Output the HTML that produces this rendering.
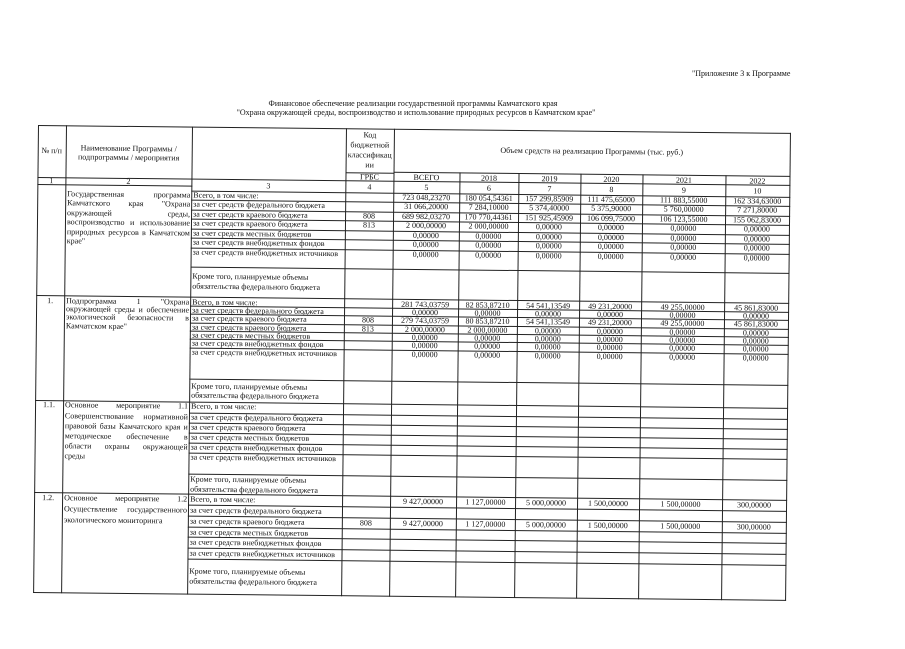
<!DOCTYPE html>
<html><head><meta charset="utf-8">
<style>
html,body{margin:0;padding:0;background:#fff}
body{width:905px;height:640px;overflow:hidden;position:relative;font-family:"Liberation Serif","DejaVu Serif",serif;color:#111}
#r{position:absolute;left:0;top:0;width:905px;height:640px;transform-origin:38px 125px;transform:rotate(0.6deg)}
.h{position:absolute;height:1px;background:#222}
.v{position:absolute;width:1px;background:#222}
.t{position:absolute;font-size:8px;line-height:8px;white-space:nowrap}
.c{text-align:center}
.j{text-align:justify;text-align-last:justify;white-space:normal}
.a{left:68px;width:123px}
.b{left:194px}
.v5{left:394px;width:66px}.v6{left:460px;width:59px}.v7{left:519px;width:62px}.v8{left:581px;width:62px}.v9{left:643px;width:83px}.v10{left:726px;width:64px}
.k{left:346px;width:48px}
</style></head><body>

<div class="t" style="left:692px;top:70px;font-size:8px">"Приложение 3 к Программе</div>
<div class="t c" style="left:213px;width:400px;top:100px;font-size:8px">Финансовое обеспечение реализации государственной программы Камчатского края</div>
<div class="t c" style="left:216px;width:400px;top:109px;font-size:8px">"Охрана окружающей среды, воспроизводство и использование природных ресурсов в Камчатском крае"</div>

<div id="r">
<!-- horizontal lines -->
<div class="h" style="left:38px;top:125px;width:753px"></div>
<div class="h" style="left:394px;top:168px;width:397px"></div>
<div class="h" style="left:346px;top:169px;width:49px"></div>
<div class="h" style="left:38px;top:177px;width:753px"></div>
<div class="h" style="left:38px;top:184px;width:155px"></div>
<div class="h" style="left:192px;top:189px;width:599px"></div>
<div class="h" style="left:192px;top:198px;width:599px"></div>
<div class="h" style="left:192px;top:208px;width:599px"></div>
<div class="h" style="left:192px;top:217px;width:599px"></div>
<div class="h" style="left:192px;top:227px;width:599px"></div>
<div class="h" style="left:192px;top:236px;width:599px"></div>
<div class="h" style="left:192px;top:246px;width:599px"></div>
<div class="h" style="left:192px;top:265px;width:599px"></div>
<div class="h" style="left:38px;top:295px;width:753px"></div>
<div class="h" style="left:192px;top:304px;width:599px"></div>
<div class="h" style="left:192px;top:312px;width:599px"></div>
<div class="h" style="left:192px;top:321px;width:599px"></div>
<div class="h" style="left:192px;top:329px;width:599px"></div>
<div class="h" style="left:192px;top:337px;width:599px"></div>
<div class="h" style="left:192px;top:346px;width:599px"></div>
<div class="h" style="left:192px;top:377px;width:599px"></div>
<div class="h" style="left:38px;top:400px;width:753px"></div>
<div class="h" style="left:192px;top:411px;width:599px"></div>
<div class="h" style="left:192px;top:421px;width:599px"></div>
<div class="h" style="left:192px;top:431px;width:599px"></div>
<div class="h" style="left:192px;top:441px;width:599px"></div>
<div class="h" style="left:192px;top:451px;width:599px"></div>
<div class="h" style="left:192px;top:472px;width:599px"></div>
<div class="h" style="left:38px;top:492px;width:753px"></div>
<div class="h" style="left:192px;top:503px;width:599px"></div>
<div class="h" style="left:192px;top:514px;width:599px"></div>
<div class="h" style="left:192px;top:525px;width:599px"></div>
<div class="h" style="left:192px;top:535px;width:599px"></div>
<div class="h" style="left:192px;top:546px;width:599px"></div>
<div class="h" style="left:192px;top:557px;width:599px"></div>
<div class="h" style="left:38px;top:592px;width:753px"></div>

<!-- vertical lines -->
<div class="v" style="left:38px;top:125px;height:468px"></div>
<div class="v" style="left:66px;top:125px;height:468px"></div>
<div class="v" style="left:192px;top:125px;height:468px"></div>
<div class="v" style="left:346px;top:125px;height:468px"></div>
<div class="v" style="left:394px;top:125px;height:468px"></div>
<div class="v" style="left:460px;top:168px;height:425px"></div>
<div class="v" style="left:519px;top:168px;height:425px"></div>
<div class="v" style="left:581px;top:168px;height:425px"></div>
<div class="v" style="left:643px;top:168px;height:425px"></div>
<div class="v" style="left:726px;top:168px;height:425px"></div>
<div class="v" style="left:790px;top:125px;height:468px"></div>

<!-- header -->
<div class="t c" style="left:38px;width:28px;top:147px">№ п/п</div>
<div class="t c" style="left:66px;width:126px;top:143px;line-height:9px">Наименование Программы /<br>подпрограммы / мероприятия</div>
<div class="t c k" style="top:127px;line-height:10px">Код<br>бюджетной<br>классификац<br>ии</div>
<div class="t c k" style="top:169.5px">ГРБС</div>
<div class="t c" style="left:394px;width:396px;top:142px">Объем средств на реализацию Программы (тыс. руб.)</div>
<div class="t c v5" style="top:169.5px">ВСЕГО</div>
<div class="t c v6" style="top:169.5px">2018</div>
<div class="t c v7" style="top:169.5px">2019</div>
<div class="t c v8" style="top:169.5px">2020</div>
<div class="t c v9" style="top:169.5px">2021</div>
<div class="t c v10" style="top:169.5px">2022</div>
<div class="t c" style="left:38px;width:28px;top:177px">1</div>
<div class="t c" style="left:66px;width:126px;top:177px">2</div>
<div class="t c" style="left:192px;width:154px;top:179.5px">3</div>
<div class="t c k" style="top:179.5px">4</div>
<div class="t c v5" style="top:179.5px">5</div>
<div class="t c v6" style="top:179.5px">6</div>
<div class="t c v7" style="top:179.5px">7</div>
<div class="t c v8" style="top:179.5px">8</div>
<div class="t c v9" style="top:179.5px">9</div>
<div class="t c v10" style="top:179.5px">10</div>

<!-- section 0 -->
<div class="t j a" style="top:190px">Государственная программа</div>
<div class="t j a" style="top:199px">Камчатского края "Охрана</div>
<div class="t j a" style="top:208.5px">окружающей среды,</div>
<div class="t j a" style="top:218px">воспроизводство и использование</div>
<div class="t j a" style="top:227.5px">природных ресурсов в Камчатском</div>
<div class="t a" style="top:237px">крае"</div>

<div class="t b" style="top:190px">Всего, в том числе:</div>
<div class="t b" style="top:199px">за счет средств федерального бюджета</div>
<div class="t b" style="top:208.5px">за счет средств краевого бюджета</div>
<div class="t b" style="top:218px">за счет средств краевого бюджета</div>
<div class="t b" style="top:227.5px">за счет средств местных бюджетов</div>
<div class="t b" style="top:237px">за счет средств внебюджетных фондов</div>
<div class="t b" style="top:247px">за счет средств внебюджетных источников</div>
<div class="t b" style="top:270px;line-height:10px">Кроме того, планируемые объемы<br>обязательства федерального бюджета</div>
<div class="t c k" style="top:208.5px">808</div>
<div class="t c k" style="top:218px">813</div>

<div class="t c v5" style="top:190px">723 048,23270</div>
<div class="t c v6" style="top:190px">180 054,54361</div>
<div class="t c v7" style="top:190px">157 299,85909</div>
<div class="t c v8" style="top:190px">111 475,65000</div>
<div class="t c v9" style="top:190px">111 883,55000</div>
<div class="t c v10" style="top:190px">162 334,63000</div>
<div class="t c v5" style="top:199px">31 066,20000</div>
<div class="t c v6" style="top:199px">7 284,10000</div>
<div class="t c v7" style="top:199px">5 374,40000</div>
<div class="t c v8" style="top:199px">5 375,90000</div>
<div class="t c v9" style="top:199px">5 760,00000</div>
<div class="t c v10" style="top:199px">7 271,80000</div>
<div class="t c v5" style="top:208.5px">689 982,03270</div>
<div class="t c v6" style="top:208.5px">170 770,44361</div>
<div class="t c v7" style="top:208.5px">151 925,45909</div>
<div class="t c v8" style="top:208.5px">106 099,75000</div>
<div class="t c v9" style="top:208.5px">106 123,55000</div>
<div class="t c v10" style="top:208.5px">155 062,83000</div>
<div class="t c v5" style="top:218px">2 000,00000</div>
<div class="t c v6" style="top:218px">2 000,00000</div>
<div class="t c v7" style="top:218px">0,00000</div>
<div class="t c v8" style="top:218px">0,00000</div>
<div class="t c v9" style="top:218px">0,00000</div>
<div class="t c v10" style="top:218px">0,00000</div>
<div class="t c v5" style="top:227.5px">0,00000</div>
<div class="t c v6" style="top:227.5px">0,00000</div>
<div class="t c v7" style="top:227.5px">0,00000</div>
<div class="t c v8" style="top:227.5px">0,00000</div>
<div class="t c v9" style="top:227.5px">0,00000</div>
<div class="t c v10" style="top:227.5px">0,00000</div>
<div class="t c v5" style="top:237px">0,00000</div>
<div class="t c v6" style="top:237px">0,00000</div>
<div class="t c v7" style="top:237px">0,00000</div>
<div class="t c v8" style="top:237px">0,00000</div>
<div class="t c v9" style="top:237px">0,00000</div>
<div class="t c v10" style="top:237px">0,00000</div>
<div class="t c v5" style="top:247px">0,00000</div>
<div class="t c v6" style="top:247px">0,00000</div>
<div class="t c v7" style="top:247px">0,00000</div>
<div class="t c v8" style="top:247px">0,00000</div>
<div class="t c v9" style="top:247px">0,00000</div>
<div class="t c v10" style="top:247px">0,00000</div>

<!-- section 1 -->
<div class="t c" style="left:38px;width:28px;top:296.5px">1.</div>
<div class="t j a" style="top:296.5px">Подпрограмма 1 "Охрана</div>
<div class="t j a" style="top:304.5px">окружающей среды и обеспечение</div>
<div class="t j a" style="top:313px">экологической безопасности в</div>
<div class="t a" style="top:321.5px">Камчатском крае"</div>

<div class="t b" style="top:296.5px">Всего, в том числе:</div>
<div class="t b" style="top:304.5px">за счет средств федерального бюджета</div>
<div class="t b" style="top:313px">за счет средств краевого бюджета</div>
<div class="t b" style="top:321.5px">за счет средств краевого бюджета</div>
<div class="t b" style="top:329.5px">за счет средств местных бюджетов</div>
<div class="t b" style="top:338px">за счет средств внебюджетных фондов</div>
<div class="t b" style="top:346.5px">за счет средств внебюджетных источников</div>
<div class="t b" style="top:380px;line-height:9px">Кроме того, планируемые объемы<br>обязательства федерального бюджета</div>
<div class="t c k" style="top:313px">808</div>
<div class="t c k" style="top:321.5px">813</div>

<div class="t c v5" style="top:296.5px">281 743,03759</div>
<div class="t c v6" style="top:296.5px">82 853,87210</div>
<div class="t c v7" style="top:296.5px">54 541,13549</div>
<div class="t c v8" style="top:296.5px">49 231,20000</div>
<div class="t c v9" style="top:296.5px">49 255,00000</div>
<div class="t c v10" style="top:296.5px">45 861,83000</div>
<div class="t c v5" style="top:304.5px">0,00000</div>
<div class="t c v6" style="top:304.5px">0,00000</div>
<div class="t c v7" style="top:304.5px">0,00000</div>
<div class="t c v8" style="top:304.5px">0,00000</div>
<div class="t c v9" style="top:304.5px">0,00000</div>
<div class="t c v10" style="top:304.5px">0,00000</div>
<div class="t c v5" style="top:313px">279 743,03759</div>
<div class="t c v6" style="top:313px">80 853,87210</div>
<div class="t c v7" style="top:313px">54 541,13549</div>
<div class="t c v8" style="top:313px">49 231,20000</div>
<div class="t c v9" style="top:313px">49 255,00000</div>
<div class="t c v10" style="top:313px">45 861,83000</div>
<div class="t c v5" style="top:321.5px">2 000,00000</div>
<div class="t c v6" style="top:321.5px">2 000,00000</div>
<div class="t c v7" style="top:321.5px">0,00000</div>
<div class="t c v8" style="top:321.5px">0,00000</div>
<div class="t c v9" style="top:321.5px">0,00000</div>
<div class="t c v10" style="top:321.5px">0,00000</div>
<div class="t c v5" style="top:329.5px">0,00000</div>
<div class="t c v6" style="top:329.5px">0,00000</div>
<div class="t c v7" style="top:329.5px">0,00000</div>
<div class="t c v8" style="top:329.5px">0,00000</div>
<div class="t c v9" style="top:329.5px">0,00000</div>
<div class="t c v10" style="top:329.5px">0,00000</div>
<div class="t c v5" style="top:338px">0,00000</div>
<div class="t c v6" style="top:338px">0,00000</div>
<div class="t c v7" style="top:338px">0,00000</div>
<div class="t c v8" style="top:338px">0,00000</div>
<div class="t c v9" style="top:338px">0,00000</div>
<div class="t c v10" style="top:338px">0,00000</div>
<div class="t c v5" style="top:346.5px">0,00000</div>
<div class="t c v6" style="top:346.5px">0,00000</div>
<div class="t c v7" style="top:346.5px">0,00000</div>
<div class="t c v8" style="top:346.5px">0,00000</div>
<div class="t c v9" style="top:346.5px">0,00000</div>
<div class="t c v10" style="top:346.5px">0,00000</div>

<!-- section 1.1 -->
<div class="t c" style="left:38px;width:28px;top:401px">1.1.</div>
<div class="t j a" style="top:401px">Основное мероприятие 1.1</div>
<div class="t j a" style="top:411.5px">Совершенствование нормативной</div>
<div class="t j a" style="top:421.5px">правовой базы Камчатского края и</div>
<div class="t j a" style="top:431.5px">методическое обеспечение в</div>
<div class="t j a" style="top:441.5px">области охраны окружающей</div>
<div class="t a" style="top:451.5px">среды</div>

<div class="t b" style="top:401px">Всего, в том числе:</div>
<div class="t b" style="top:411.5px">за счет средств федерального бюджета</div>
<div class="t b" style="top:421.5px">за счет средств краевого бюджета</div>
<div class="t b" style="top:431.5px">за счет средств местных бюджетов</div>
<div class="t b" style="top:441.5px">за счет средств внебюджетных фондов</div>
<div class="t b" style="top:452px">за счет средств внебюджетных источников</div>
<div class="t b" style="top:473px;line-height:9.5px">Кроме того, планируемые объемы<br>обязательства федерального бюджета</div>

<!-- section 1.2 -->
<div class="t c" style="left:38px;width:28px;top:494px">1.2.</div>
<div class="t j a" style="top:494px">Основное мероприятие 1.2</div>
<div class="t j a" style="top:505px">Осуществление государственного</div>
<div class="t a" style="top:516px">экологического мониторинга</div>

<div class="t b" style="top:494px">Всего, в том числе:</div>
<div class="t b" style="top:505px">за счет средств федерального бюджета</div>
<div class="t b" style="top:516px">за счет средств краевого бюджета</div>
<div class="t b" style="top:526.5px">за счет средств местных бюджетов</div>
<div class="t b" style="top:537px">за счет средств внебюджетных фондов</div>
<div class="t b" style="top:548px">за счет средств внебюджетных источников</div>
<div class="t b" style="top:565px;line-height:10px">Кроме того, планируемые объемы<br>обязательства федерального бюджета</div>
<div class="t c k" style="top:516px">808</div>

<div class="t c v5" style="top:494px">9 427,00000</div>
<div class="t c v6" style="top:494px">1 127,00000</div>
<div class="t c v7" style="top:494px">5 000,00000</div>
<div class="t c v8" style="top:494px">1 500,00000</div>
<div class="t c v9" style="top:494px">1 500,00000</div>
<div class="t c v10" style="top:494px">300,00000</div>
<div class="t c v5" style="top:516px">9 427,00000</div>
<div class="t c v6" style="top:516px">1 127,00000</div>
<div class="t c v7" style="top:516px">5 000,00000</div>
<div class="t c v8" style="top:516px">1 500,00000</div>
<div class="t c v9" style="top:516px">1 500,00000</div>
<div class="t c v10" style="top:516px">300,00000</div>
</div>
</body></html>
